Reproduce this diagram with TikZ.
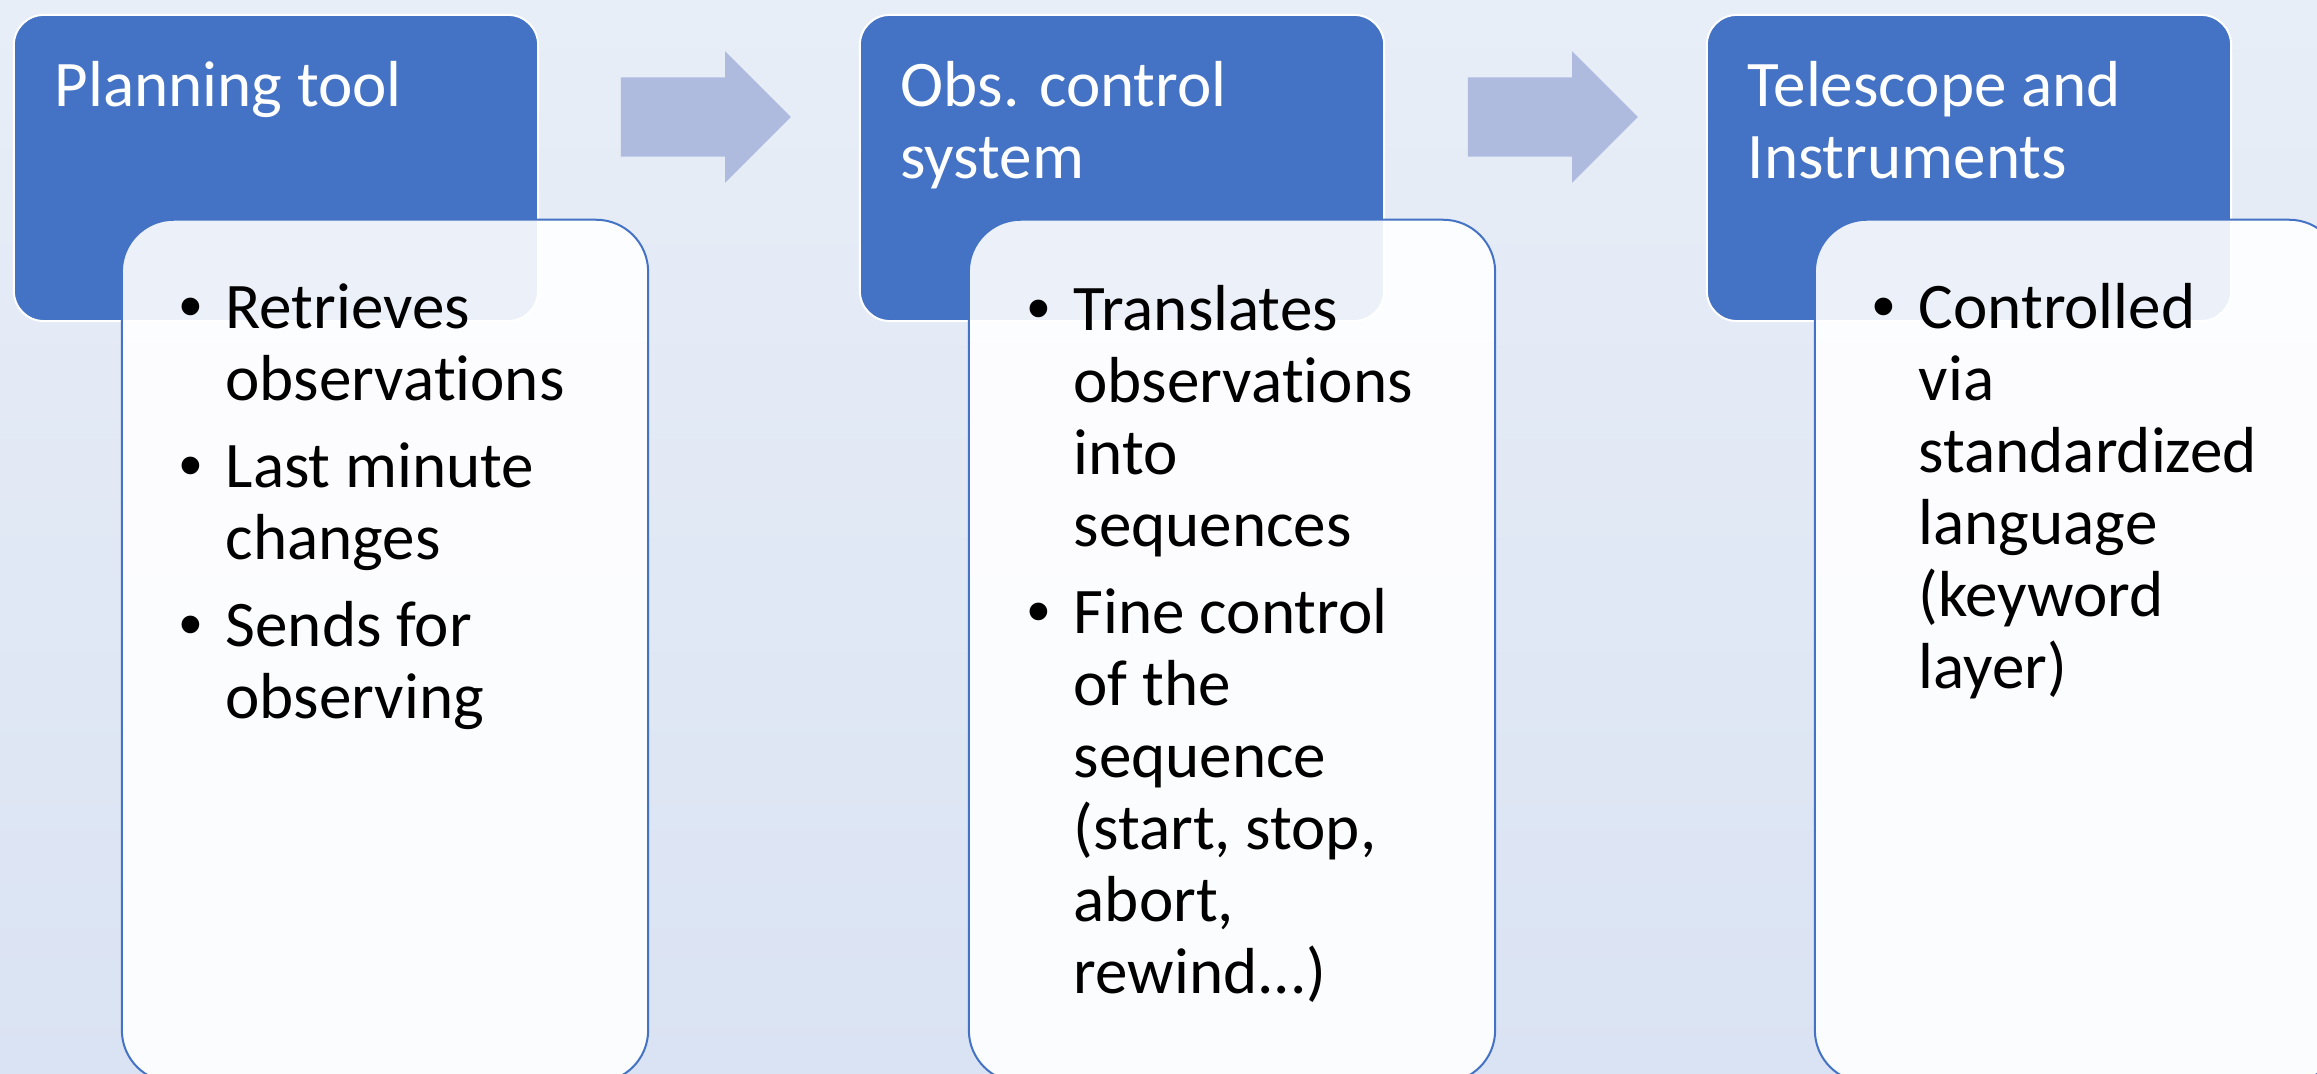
\documentclass[tikz,border=0pt]{standalone}
\usepackage{fontspec}
\setmainfont{Carlito}[Ligatures={NoCommon}]
\newfontfamily\bulletfont{Liberation Sans}
\usetikzlibrary{shapes.arrows}

\definecolor{accentblue}{HTML}{4472C4}
\definecolor{arrowblue}{RGB}{174,187,222}
\definecolor{bgtop}{RGB}{232,238,247}
\definecolor{bgbottom}{RGB}{218,227,243}

% hanging bullet in front of a list line
\newcommand\itm{\llap{{\bulletfont\char"2022}\hspace{0.23cm}}}

\begin{document}
\begin{tikzpicture}[x=0.01cm,y=-0.01cm,
	every node/.style={inner sep=0pt},
	headbox/.style={rectangle, rounded corners=0.3cm, fill=accentblue, draw=white, line width=0.02cm, minimum width=5.24cm, minimum height=3.06cm},
	listbox/.style={rectangle, rounded corners=0.52cm, fill=white, fill opacity=0.9, draw=accentblue, line width=0.02cm, minimum width=5.26cm, minimum height=8.62cm},
	flow/.style={single arrow, fill=arrowblue, inner ysep=0.39cm, single arrow head extend=0.26cm, single arrow tip angle=90, minimum width=1.30cm, minimum height=1.70cm},
	headtext/.style={text=white, align=left, anchor=base west, font=\fontsize{18.5}{20.5}\selectfont},
	listtext/.style={text=black, align=left, anchor=base west, font=\fontsize{18.5}{20.5}\selectfont}]
	\clip (0,0) rectangle (2317,1074);
	\shade [top color=bgtop, bottom color=bgbottom] (0,0) rectangle (2317,1074);
	% stage headers
	\node [headbox] (plan) at (276,168) {};
	\node [headbox] (obs) at (1122,168) {};
	\node [headbox] (tel) at (1969,168) {};
	% flow arrows between the stages
	\node [flow] (flowA) at (686,117) {};
	\node [flow] (flowB) at (1533,117) {};
	% detail panels
	\node [listbox] (planlist) at (385,651) {};
	\node [listbox] (obslist) at (1232,651) {};
	\node [listbox] (tellist) at (2078,651) {};
	% titles (base = baseline of the last line)
	\node [headtext] (plantitle) at (54,107) {Planning tool};
	\node [headtext] (obstitle) at (900,179) {Obs. control\\system};
	\node [headtext] (teltitle) at (1747,179) {Telescope and\\Instruments};
	% bullet lists
	\node [listtext] (planitems) at (225,719) {\itm Retrieves\\observations\\[0.15cm]\itm Last minute\\changes\\[0.15cm]\itm Sends for\\observing};
	\node [listtext] (obsitems) at (1073,994) {\itm Translates\\observations\\into\\sequences\\[0.15cm]\itm Fine control\\of the\\sequence\\(start, stop,\\abort,\\rewind...)};
	\node [listtext] (telitems) at (1918,689) {\itm Controlled\\via\\standardized\\language\\(keyword\\layer)};
\end{tikzpicture}
\end{document}
